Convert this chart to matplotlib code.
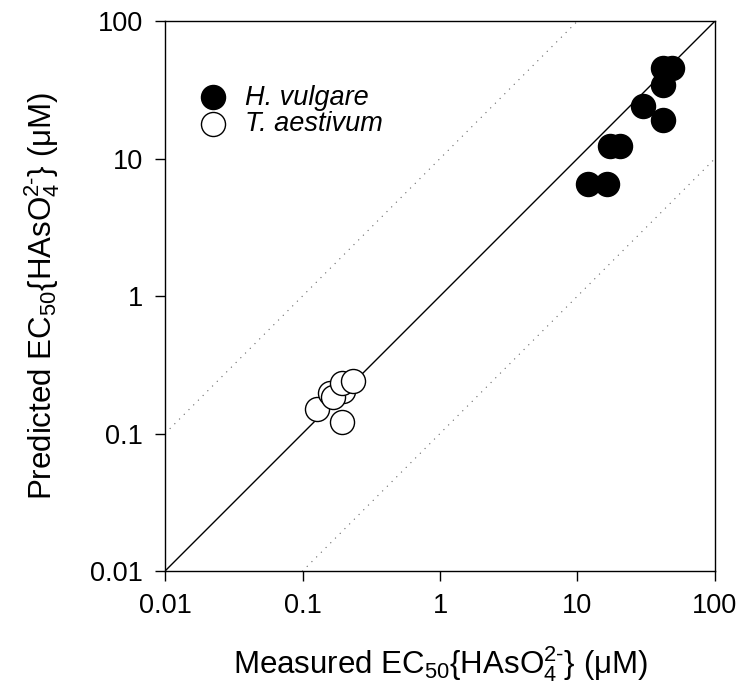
import numpy as np
import matplotlib
matplotlib.use("Agg")
import matplotlib.pyplot as plt

plt.rcParams['font.family'] = ['Liberation Sans', 'DejaVu Sans']
plt.rcParams['mathtext.fontset'] = 'custom'
plt.rcParams['mathtext.rm'] = 'Liberation Sans'
plt.rcParams['mathtext.it'] = 'Liberation Sans:italic'
plt.rcParams['mathtext.default'] = 'regular'

# H. vulgare (measured, predicted) in uM
hv_measured = [11.9, 16.4, 17.2, 20.5, 30.0, 42.0, 42.0, 42.0, 48.6]
hv_predicted = [6.5, 6.5, 12.3, 12.3, 24.0, 19.0, 34.0, 45.5, 45.5]

# T. aestivum
ta_measured = [0.127, 0.159, 0.196, 0.167, 0.193, 0.233, 0.193]
ta_predicted = [0.152, 0.196, 0.205, 0.185, 0.233, 0.242, 0.122]

tick_values = [0.01, 0.1, 1, 10, 100]
tick_labels = ["0.01", "0.1", "1", "10", "100"]
axis_min, axis_max = 0.01, 100

fig = plt.figure(figsize=(7.42, 6.93), dpi=100)
ax = fig.add_axes([0.2224, 0.176, 0.7412, 0.7936])

# 1:1 line and 10-fold lines
line_x = np.array([axis_min, axis_max])
ax.plot(line_x, line_x, color="black", linewidth=1.0, zorder=1)
ax.plot(line_x, line_x * 10, color="#666666", linewidth=0.8, linestyle=(0, (1, 5)), zorder=1)
ax.plot(line_x, line_x / 10, color="#666666", linewidth=0.8, linestyle=(0, (1, 5)), zorder=1)

ax.scatter(hv_measured, hv_predicted, s=300, facecolor="black", edgecolor="black",
           linewidth=1.0, zorder=3, label="H. vulgare")
ax.scatter(ta_measured, ta_predicted, s=300, facecolor="white", edgecolor="black",
           linewidth=1.0, zorder=3, label="T. aestivum")

ax.set_xscale("log")
ax.set_yscale("log")
ax.set_xlim(axis_min, axis_max)
ax.set_ylim(axis_min, axis_max)
ax.set_xticks(tick_values)
ax.set_xticklabels(tick_labels)
ax.set_yticks(tick_values)
ax.set_yticklabels(tick_labels)
ax.minorticks_off()
ax.tick_params(axis="both", which="major", direction="out", length=7, width=1,
               labelsize=19.5, top=False, right=False, pad=9)
for spine in ax.spines.values():
    spine.set_linewidth(1.0)

label_unit = r"EC$_{50}${HAsO$_4^{2\text{-}}$} ($\mu$M)"
ax.set_xlabel("Measured " + label_unit, fontsize=22.5, labelpad=18)
ax.set_ylabel("Predicted " + label_unit, fontsize=22.5, labelpad=20)

leg = ax.legend(loc="upper left", bbox_to_anchor=(0.003, 0.919), frameon=False,
                prop={"style": "italic", "size": 19.5}, handletextpad=0.2,
                labelspacing=0.02, borderaxespad=0.3)

fig.savefig("out.png", dpi=100)
